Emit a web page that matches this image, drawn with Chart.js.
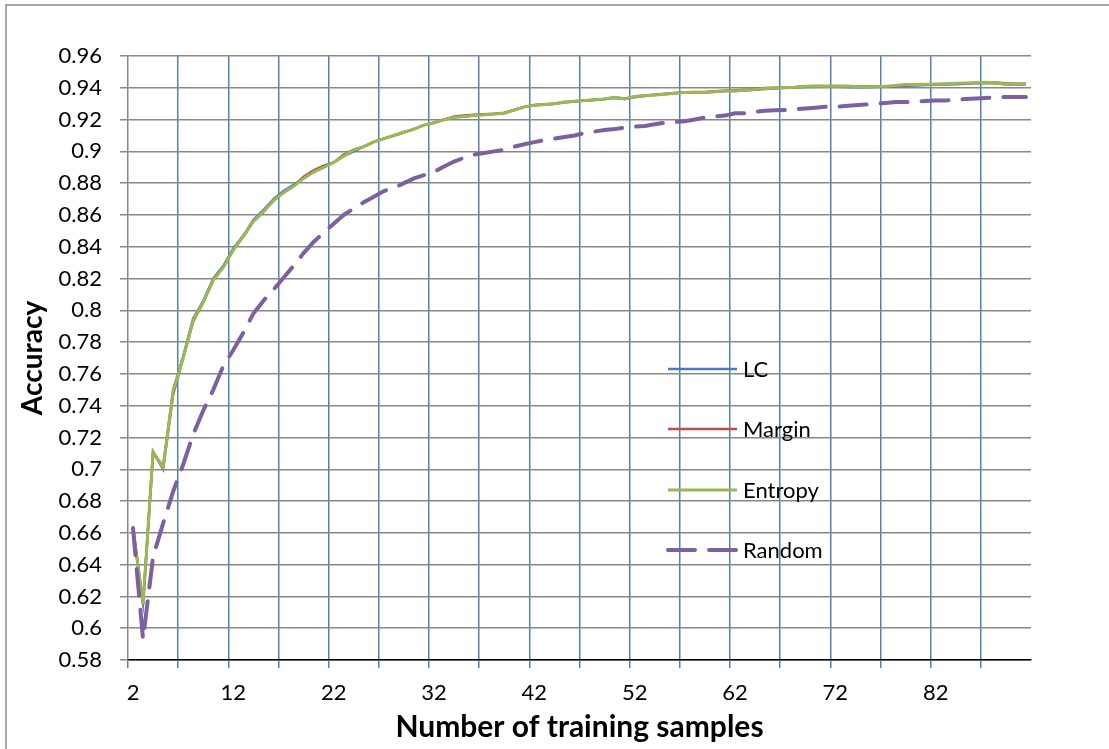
<!DOCTYPE html>
<html>
<head>
<meta charset="utf-8">
<script src="https://cdn.jsdelivr.net/npm/chart.js@4"></script>
<style>
  html, body { margin: 0; padding: 0; background: #fff; }
  #wrap { width: 1109px; height: 749px; position: relative; }
</style>
</head>
<body>
<div id="wrap"><canvas id="chart"></canvas></div>
<script>
// number of training samples (x categories)
const samples = [2, 3, 4, 5, 6, 7, 8, 9, 10, 11, 12, 13, 14, 15, 16, 17, 18, 19, 20, 21,
  22, 23, 24, 25, 26, 27, 28, 29, 30, 31, 32, 33, 34, 35, 36, 37, 38, 39, 40, 41,
  42, 43, 44, 45, 46, 47, 48, 49, 50, 51, 52, 53, 54, 55, 56, 57, 58, 59, 60, 61,
  62, 63, 64, 65, 66, 67, 68, 69, 70, 71, 72, 73, 74, 75, 76, 77, 78, 79, 80, 81,
  82, 83, 84, 85, 86, 87, 88, 89, 90, 91];

const xTickLabels = ['2', '12', '22', '32', '42', '52', '62', '72', '82'];
const yTickValues = [0.58, 0.6, 0.62, 0.64, 0.66, 0.68, 0.7, 0.72, 0.74, 0.76, 0.78, 0.8,
  0.82, 0.84, 0.86, 0.88, 0.9, 0.92, 0.94, 0.96];
const yTickLabels = ['0.58', '0.6', '0.62', '0.64', '0.66', '0.68', '0.7', '0.72', '0.74', '0.76',
  '0.78', '0.8', '0.82', '0.84', '0.86', '0.88', '0.9', '0.92', '0.94', '0.96'];

const lc = [0.663, 0.616, 0.710, 0.702, 0.750, 0.771, 0.795, 0.806, 0.820, 0.828,
  0.839, 0.847, 0.857, 0.863, 0.870, 0.875, 0.879, 0.883, 0.887, 0.890,
  0.893, 0.897, 0.900, 0.903, 0.906, 0.908, 0.910, 0.912, 0.914, 0.9165,
  0.918, 0.920, 0.9215, 0.922, 0.9225, 0.923, 0.9235, 0.924, 0.926, 0.928,
  0.929, 0.9293, 0.930, 0.9308, 0.9313, 0.932, 0.9323, 0.933, 0.9335, 0.933,
  0.934, 0.9348, 0.9355, 0.936, 0.9365, 0.937, 0.937, 0.937, 0.9375, 0.938,
  0.938, 0.9383, 0.9388, 0.9393, 0.9396, 0.940, 0.9402, 0.9405, 0.9407, 0.9407,
  0.9407, 0.9405, 0.9403, 0.9403, 0.9405, 0.9407, 0.941, 0.9413, 0.9415, 0.9418,
  0.942, 0.9421, 0.9423, 0.9425, 0.9428, 0.943, 0.9428, 0.942, 0.942, 0.942];

const margin = [0.663, 0.615, 0.711, 0.700, 0.747, 0.770, 0.793, 0.805, 0.819, 0.827,
  0.838, 0.8465, 0.856, 0.862, 0.869, 0.874, 0.878, 0.884, 0.888, 0.891,
  0.893, 0.898, 0.901, 0.903, 0.906, 0.908, 0.910, 0.912, 0.914, 0.9165,
  0.918, 0.920, 0.922, 0.9225, 0.923, 0.9233, 0.9237, 0.9243, 0.926, 0.928,
  0.9292, 0.9297, 0.930, 0.931, 0.9315, 0.932, 0.9325, 0.933, 0.934, 0.9332,
  0.9346, 0.9352, 0.9357, 0.9363, 0.9367, 0.9372, 0.9373, 0.9374, 0.9378, 0.9382,
  0.9384, 0.9388, 0.9393, 0.9398, 0.940, 0.9402, 0.9405, 0.941, 0.9412, 0.9412,
  0.9412, 0.9412, 0.941, 0.9409, 0.9409, 0.941, 0.9412, 0.9416, 0.942, 0.942,
  0.9422, 0.9424, 0.9426, 0.9428, 0.943, 0.9432, 0.9433, 0.9428, 0.9426, 0.9426];

const entropy = [0.663, 0.615, 0.711, 0.701, 0.749, 0.770, 0.794, 0.805, 0.819, 0.827,
  0.838, 0.8465, 0.856, 0.862, 0.869, 0.874, 0.878, 0.883, 0.887, 0.890,
  0.893, 0.897, 0.901, 0.903, 0.906, 0.908, 0.910, 0.912, 0.914, 0.9165,
  0.918, 0.920, 0.9215, 0.922, 0.9225, 0.923, 0.9235, 0.924, 0.926, 0.928,
  0.929, 0.9295, 0.930, 0.931, 0.9315, 0.932, 0.9325, 0.933, 0.934, 0.933,
  0.9345, 0.935, 0.9355, 0.936, 0.9365, 0.937, 0.937, 0.937, 0.9375, 0.938,
  0.938, 0.9385, 0.939, 0.9395, 0.9398, 0.940, 0.9403, 0.941, 0.941, 0.941,
  0.941, 0.941, 0.9408, 0.9407, 0.9408, 0.941, 0.9415, 0.942, 0.942, 0.9422,
  0.9424, 0.9426, 0.9428, 0.943, 0.9432, 0.9435, 0.943, 0.9424, 0.9424, 0.9424];

const random = [0.663, 0.593, 0.645, 0.666, 0.686, 0.703, 0.722, 0.737, 0.750, 0.765,
  0.775, 0.786, 0.798, 0.806, 0.813, 0.8205, 0.828, 0.836, 0.843, 0.849,
  0.8545, 0.860, 0.864, 0.868, 0.8715, 0.875, 0.877, 0.880, 0.883, 0.885,
  0.887, 0.8905, 0.8936, 0.896, 0.898, 0.899, 0.900, 0.901, 0.903, 0.9045,
  0.9058, 0.907, 0.908, 0.909, 0.910, 0.9115, 0.9125, 0.9135, 0.914, 0.915,
  0.9155, 0.916, 0.917, 0.918, 0.9185, 0.919, 0.920, 0.9213, 0.922, 0.9225,
  0.924, 0.924, 0.925, 0.9255, 0.9258, 0.926, 0.9265, 0.927, 0.9275, 0.928,
  0.928, 0.9285, 0.929, 0.9295, 0.930, 0.9305, 0.931, 0.931, 0.9313, 0.9317,
  0.932, 0.932, 0.9324, 0.933, 0.9333, 0.9336, 0.934, 0.9342, 0.9342, 0.9342];

const seriesNames = ['LC', 'Margin', 'Entropy', 'Random'];

const FONT = 'Lato, "Open Sans", sans-serif';
const GRID_BLUE = '#4f81bd';
const GRID_GREY = '#878787';
const NONE = 'rgba(0,0,0,0)';

// legend drawn inside the plot like the Excel one
const insideLegend = {
  id: 'insideLegend',
  afterDatasetsDraw(chart) {
    const ctx = chart.ctx;
    const rows = [369, 429, 490, 550];
    ctx.save();
    ctx.font = '22px ' + FONT;
    ctx.textBaseline = 'middle';
    ctx.fillStyle = '#000';
    chart.data.datasets.forEach(function(ds, i) {
      const y = rows[i];
      ctx.beginPath();
      ctx.strokeStyle = ds.borderColor;
      ctx.lineWidth = ds.borderWidth;
      ctx.lineCap = ds.borderDash ? 'round' : 'butt';
      ctx.setLineDash(ds.borderDash ? [27, 14] : []);
      ctx.moveTo(668, y);
      ctx.lineTo(737, y);
      ctx.stroke();
      ctx.fillText(ds.label, 743, y + 1);
    });
    ctx.restore();
  }
};

// white page and grey outer frame
const frame = {
  id: 'frame',
  beforeDraw(chart) {
    const ctx = chart.ctx;
    ctx.save();
    ctx.fillStyle = '#fff';
    ctx.fillRect(0, 0, chart.width, chart.height);
    ctx.strokeStyle = '#8a8a8a';
    ctx.lineWidth = 1.5;
    ctx.strokeRect(6, 5, chart.width + 20, chart.height + 20);
    ctx.restore();
  }
};

new Chart(document.getElementById('chart'), {
  type: 'line',
  data: {
    labels: samples,
    datasets: [
      { label: seriesNames[0], data: lc, borderColor: '#4a7ebb', borderWidth: 2.5, order: 4 },
      { label: seriesNames[1], data: margin, borderColor: '#be4b48', borderWidth: 2.5, order: 3 },
      { label: seriesNames[2], data: entropy, borderColor: '#98b954', borderWidth: 3, order: 2 },
      { label: seriesNames[3], data: random, borderColor: '#7d60a0', borderWidth: 4,
        borderDash: [27, 14], borderCapStyle: 'round', order: 1 }
    ]
  },
  options: {
    responsive: true,
    maintainAspectRatio: false,
    animation: false,
    elements: { point: { radius: 0 }, line: { tension: 0 } },
    layout: { padding: { left: 6, top: 56, right: 78, bottom: 0 } },
    plugins: { legend: { display: false }, tooltip: { enabled: false } },
    scales: {
      x: {
        type: 'category',
        offset: true,
        afterFit: function(axis) { axis.height = 89; },
        grid: {
          offset: true,
          color: c => (c.index > 0 && c.index < samples.length && c.index % 5 === 0) ? GRID_BLUE : NONE,
          tickColor: c => (c.index < samples.length && c.index % 5 === 0) ? GRID_BLUE : NONE,
          lineWidth: 1.5,
          tickLength: 8
        },
        border: { color: '#000', width: 1.5 },
        ticks: {
          autoSkip: false,
          maxRotation: 0,
          padding: 12,
          color: '#000',
          font: { family: FONT, size: 22 },
          callback: function(value) {
            const lab = String(this.getLabelForValue(value));
            return xTickLabels.includes(lab) ? lab : '';
          }
        },
        title: {
          display: true,
          text: 'Number of training samples',
          color: '#000',
          font: { family: FONT, size: 30, weight: 'bold' },
          padding: { top: 0, bottom: 4 }
        }
      },
      y: {
        min: 0.58,
        max: 0.96,
        afterFit: function(axis) { axis.width = 122; },
        afterBuildTicks: function(axis) { axis.ticks = yTickValues.map(v => ({ value: v })); },
        grid: { color: GRID_GREY, lineWidth: 1.5, tickLength: 8, tickColor: GRID_GREY },
        border: { color: GRID_GREY, width: 1.5 },
        ticks: {
          padding: 18,
          color: '#000',
          font: { family: FONT, size: 22 },
          callback: function(value) {
            const i = yTickValues.findIndex(v => Math.abs(v - value) < 1e-9);
            return i >= 0 ? yTickLabels[i] : '';
          }
        },
        title: {
          display: true,
          text: 'Accuracy',
          color: '#000',
          font: { family: FONT, size: 28, weight: 'bold' },
          padding: { top: 10, bottom: 0 }
        }
      }
    }
  },
  plugins: [frame, insideLegend]
});
</script>
</body>
</html>
